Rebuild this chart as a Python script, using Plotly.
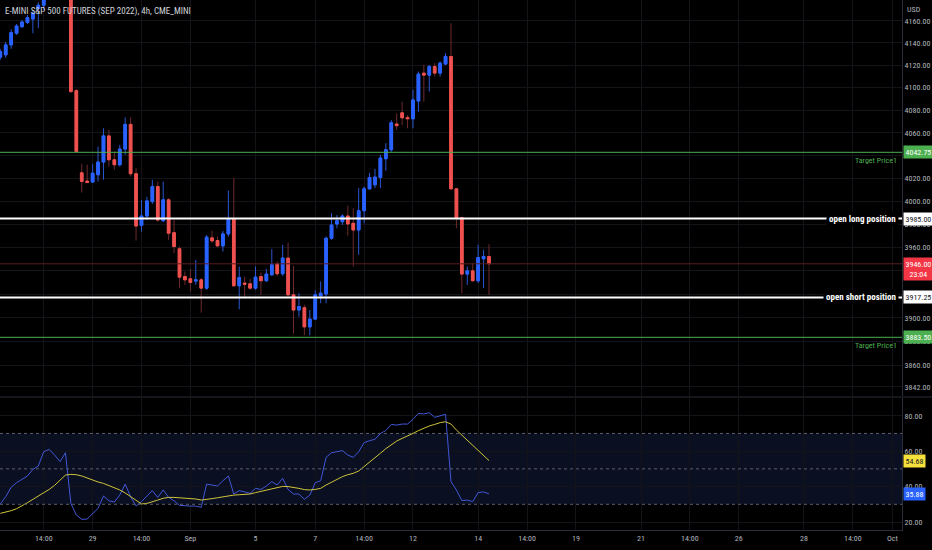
import math
import plotly.graph_objects as go

# ---------------- data ----------------
title_text = "E-MINI S&P 500 FUTURES (SEP 2022), 4h, CME_MINI"

o = [4127.2, 4129.3, 4138.2, 4148.7, 4154.6, 4158.5, 4161.5, 4171.1, 4174.0, 4182.0,
     4190.0, 4197.0, 4200.0, 4205.0, 4097.3, 4024.8, 4017.6, 4016.7, 4023.1, 4034.2,
     4057.2, 4036.2, 4031.8, 4045.6, 4067.4, 4024.0, 3979.1, 3987.2, 3999.7, 4012.8,
     3983.1, 4001.2, 3972.8, 3958.9, 3935.1, 3933.2, 3931.2, 3932.3, 3925.2, 3968.3,
     3966.0, 3961.4, 3971.7, 3984.6, 3927.2, 3929.5, 3928.9, 3925.2, 3935.1, 3931.5,
     3936.6, 3945.8, 3937.5, 3950.9, 3919.5, 3906.6, 3908.6, 3892.3, 3898.9, 3918.6,
     3920.3, 3968.0, 3980.3, 3982.2, 3987.2, 3980.9, 3975.1, 3991.8, 4010.8, 4014.3,
     4020.7, 4037.1, 4045.0, 4067.7, 4077.6, 4073.5, 4072.3, 4088.1, 4112.9, 4111.1,
     4118.8, 4112.9, 4121.0, 4127.8, 4010.8, 3985.7, 3937.2, 3940.0, 3931.5, 3950.3,
     3952.3]
h = [4134.6, 4140.9, 4152.3, 4157.0, 4160.6, 4165.1, 4169.6, 4176.7, 4186.0, 4194.0,
     4201.0, 4206.0, 4212.0, 4210.0, 4098.6, 4032.7, 4031.8, 4032.4, 4047.8, 4063.9,
     4062.5, 4043.5, 4049.3, 4073.5, 4073.5, 4028.9, 4001.2, 4003.8, 4018.7, 4017.2,
     4017.2, 4002.7, 3983.7, 3960.8, 3939.4, 3941.5, 3949.4, 3933.8, 3970.8, 3974.5,
     3969.4, 3974.3, 4009.3, 4020.2, 3943.7, 3935.1, 3933.2, 3943.7, 3938.6, 3941.7,
     3958.6, 3948.0, 3962.3, 3964.2, 3944.3, 3920.9, 3910.9, 3906.6, 3923.2, 3930.9,
     3969.4, 3989.6, 3988.1, 3988.7, 3996.2, 3993.9, 4011.4, 4012.8, 4024.8, 4028.3,
     4040.6, 4050.8, 4071.2, 4077.1, 4087.5, 4075.6, 4098.0, 4114.3, 4120.3, 4120.3,
     4121.8, 4123.3, 4130.8, 4157.6, 4011.4, 3986.6, 3943.7, 3946.6, 3962.3, 3958.0,
     3962.9]
l = [4124.8, 4126.6, 4134.6, 4147.2, 4153.4, 4157.0, 4148.7, 4153.2, 4169.6, 4180.0,
     4186.0, 4191.0, 4195.0, 4095.3, 4042.8, 4007.6, 4015.8, 4015.8, 4017.2, 4018.7,
     4030.3, 4027.5, 4030.3, 4040.6, 4021.6, 3966.0, 3973.7, 3983.7, 3997.7, 3982.2,
     3982.2, 3966.6, 3955.2, 3925.2, 3928.0, 3922.3, 3928.0, 3904.3, 3923.8, 3964.2,
     3960.3, 3956.5, 3969.4, 3926.6, 3907.2, 3916.7, 3923.8, 3923.8, 3919.5, 3930.6,
     3935.7, 3935.7, 3935.7, 3918.6, 3886.7, 3900.9, 3885.2, 3885.2, 3898.1, 3912.4,
     3912.4, 3966.6, 3976.6, 3979.4, 3970.2, 3943.7, 3953.7, 3980.9, 4010.0, 4011.4,
     4011.4, 4026.6, 4043.2, 4062.5, 4066.8, 4063.9, 4063.9, 4078.5, 4087.5, 4096.4,
     4109.9, 4109.9, 4120.3, 4010.0, 3976.6, 3920.9, 3928.0, 3930.9, 3929.5, 3925.2,
     3919.5]
c = [4132.2, 4138.2, 4149.2, 4155.2, 4158.8, 4162.7, 4166.6, 4174.0, 4182.0, 4190.0,
     4197.0, 4200.0, 4205.0, 4096.4, 4043.5, 4017.2, 4016.3, 4024.5, 4034.2, 4057.2,
     4036.2, 4031.8, 4045.6, 4067.4, 4024.0, 3978.5, 3987.2, 4000.3, 4012.8, 3983.7,
     4001.2, 3972.3, 3960.8, 3934.6, 3932.3, 3930.0, 3932.3, 3925.2, 3968.9, 3965.7,
     3961.4, 3971.7, 3984.3, 3927.2, 3934.3, 3928.6, 3925.2, 3934.6, 3931.5, 3937.2,
     3945.2, 3937.5, 3950.9, 3919.5, 3906.6, 3909.5, 3892.3, 3898.9, 3919.5, 3920.9,
     3968.0, 3979.4, 3983.1, 3987.2, 3980.3, 3975.1, 3991.8, 4010.8, 4020.7, 4021.0,
     4037.7, 4045.0, 4068.8, 4066.2, 4073.2, 4072.3, 4089.0, 4112.0, 4111.1, 4118.8,
     4112.9, 4121.8, 4127.8, 4010.8, 3985.7, 3937.2, 3940.0, 3931.5, 3951.4, 3952.3,
     3946.0]

rsi = [30.2, 34.3, 39.6, 42.2, 44.1, 46.0, 49.7, 51.6, 59.7, 61.0,
       57.8, 54.1, 59.1, 30.5, 24.0, 21.5, 21.7, 24.5, 27.7, 34.7,
       32.0, 31.3, 35.2, 41.4, 34.3, 29.0, 31.5, 34.7, 37.7, 33.9,
       38.1, 33.9, 32.0, 29.4, 29.0, 29.0, 29.0, 28.3, 41.4, 40.9,
       40.3, 43.3, 46.0, 35.8, 37.7, 37.0, 36.2, 39.0, 38.4, 40.3,
       42.8, 40.9, 44.7, 38.4, 35.8, 35.8, 32.8, 35.2, 42.2, 43.3,
       56.5, 59.1, 59.7, 60.3, 57.8, 56.5, 59.7, 64.8, 65.9, 66.7,
       70.0, 71.6, 75.1, 74.7, 75.3, 75.3, 77.9, 81.3, 81.0, 81.7,
       79.1, 79.8, 80.8, 42.8, 38.1, 32.1, 32.4, 31.5, 36.6, 37.0,
       35.88]
rsi_ma = [24.9, 25.5, 26.4, 27.5, 29.0, 30.9, 32.8, 34.7, 36.2, 38.4,
          40.7, 43.7, 46.5, 46.9, 46.7, 46.0, 44.8, 43.7, 42.6, 41.8,
          40.7, 39.6, 38.1, 36.4, 34.5, 32.4, 30.2, 30.5, 31.3, 32.4,
          33.4, 33.9, 33.9, 33.7, 33.6, 33.4, 33.0, 32.4, 32.6, 33.2,
          33.7, 34.3, 34.9, 35.2, 35.4, 35.6, 35.8, 36.6, 37.3, 38.1,
          39.0, 39.8, 40.1, 40.0, 39.6, 39.0, 38.3, 38.1, 38.4, 39.0,
          40.9, 42.6, 44.3, 45.6, 46.7, 47.5, 48.8, 51.2, 53.5, 56.1,
          58.8, 61.4, 63.8, 65.7, 67.2, 68.5, 70.0, 71.6, 73.1, 74.2,
          75.1, 76.1, 76.6, 75.3, 71.9, 69.1, 66.3, 63.5, 60.6, 57.8,
          54.68]

bar = list(range(len(c)))

x_tick_bar = [8, 17, 26, 35, 47, 58, 67, 76, 88, 97, 106, 118, 127, 136, 148, 157, 164.3]
x_tick_text = ["14:00", "29", "14:00", "Sep", "5", "7", "14:00", "12", "14", "14:00",
               "19", "21", "14:00", "26", "28", "14:00", "Oct"]

price_ticks = [3842, 3860, 3880, 3900, 3920, 3940, 3960, 3980, 4000, 4020, 4040,
               4060, 4080, 4100, 4120, 4140, 4160]
rsi_ticks = [20, 40, 60, 80]

target_up = 4042.75
target_dn = 3883.50
long_level = 3985.00
short_level = 3917.25
last_price = 3946.00
countdown = "23:04"
rsi_upper, rsi_mid, rsi_lower = 70, 50, 30

# ---------------- style ----------------
BLUE = "#2962ff"
RED = "#f0514f"
BLUE_WICK = "#2b56d0"
RED_WICK = "#6e2b2e"
GREEN = "#4caf50"
AXIS_TXT = "#b2b5be"
GRID = "#141418"
BORDER = "#2a2e39"
FONT = "Liberation Sans Narrow, Roboto Condensed, DejaVu Sans Condensed, Open Sans, sans-serif"

W, H = 932, 550
ML, MR, MT, MB = 0, 30, 0, 20
plot_h = H - MT - MB
price_dom = [(plot_h - 396) / plot_h, 1.0]
rsi_dom = [0.0, (plot_h - 398) / plot_h]

fig = go.Figure()

# wicks (full candles in wick colour)
fig.add_trace(go.Candlestick(
    x=bar, open=o, high=h, low=l, close=c,
    increasing=dict(line=dict(color=BLUE_WICK, width=1), fillcolor=BLUE_WICK),
    decreasing=dict(line=dict(color=RED_WICK, width=1), fillcolor=RED_WICK),
    whiskerwidth=0, xaxis="x", yaxis="y", hoverinfo="skip", showlegend=False))
# bodies on top
body_hi = [max(a, b) for a, b in zip(o, c)]
body_lo = [min(a, b) for a, b in zip(o, c)]
fig.add_trace(go.Candlestick(
    x=bar, open=o, high=body_hi, low=body_lo, close=c,
    increasing=dict(line=dict(color=BLUE, width=1), fillcolor=BLUE),
    decreasing=dict(line=dict(color=RED, width=1), fillcolor=RED),
    whiskerwidth=0, xaxis="x", yaxis="y", hoverinfo="skip", showlegend=False))

# horizontal levels
xr = [-5, 175]
def hline(val, color, width):
    fig.add_trace(go.Scatter(x=xr, y=[val, val], mode="lines",
                             line=dict(color=color, width=width),
                             xaxis="x", yaxis="y", hoverinfo="skip", showlegend=False))

hline(last_price, "#5a1d22", 1)
hline(target_up, GREEN, 1)
hline(target_dn, GREEN, 1)
hline(long_level, "#ffffff", 2)
hline(short_level, "#ffffff", 2)

# RSI
fig.add_trace(go.Scatter(x=bar, y=rsi, mode="lines", line=dict(color="#4257d8", width=1),
                         xaxis="x", yaxis="y2", hoverinfo="skip", showlegend=False))
fig.add_trace(go.Scatter(x=bar, y=rsi_ma, mode="lines", line=dict(color="#cfc43a", width=1),
                         xaxis="x", yaxis="y2", hoverinfo="skip", showlegend=False))

shapes = [
    dict(type="rect", xref="paper", yref="y2", x0=0, x1=1, y0=rsi_lower, y1=rsi_upper,
         fillcolor="#0a0f22", line=dict(width=0), layer="below"),
]
for lv in (rsi_upper, rsi_mid, rsi_lower):
    shapes.append(dict(type="line", xref="paper", yref="y2", x0=0, x1=1, y0=lv, y1=lv,
                       line=dict(color="#5d606b", width=1, dash="3px,3px")))
# pane separator
sep_y = (plot_h - 397) / plot_h
shapes.append(dict(type="line", xref="paper", yref="paper", x0=0, x1=(W - ML) / (W - ML - MR),
                   y0=sep_y, y1=sep_y, line=dict(color=BORDER, width=1)))

annotations = []
lg = math.log10

# title
annotations.append(dict(text=title_text, xref="paper", yref="paper", x=0, y=1,
                        xanchor="left", yanchor="top", xshift=3, yshift=-4, showarrow=False,
                        font=dict(family=FONT, size=9, color="#d1d4dc")))
annotations.append(dict(text="USD", xref="paper", yref="paper", x=1, y=1,
                        xanchor="left", yanchor="top", xshift=3, yshift=-3, showarrow=False,
                        font=dict(family=FONT, size=8, color=AXIS_TXT)))

def price_box(val, text, bg, fg, yanchor="middle", yshift=0):
    annotations.append(dict(text=text, xref="paper", yref="y", x=1, y=lg(val),
                            xanchor="left", yanchor=yanchor, xshift=1, yshift=yshift,
                            showarrow=False, bgcolor=bg, borderpad=1.5,
                            font=dict(family=FONT, size=8, color=fg)))

price_box(target_up, f"{target_up:.2f}", GREEN, "#ffffff")
price_box(long_level, f"{long_level:.2f}", "#ffffff", "#131722")
price_box(last_price, f"{last_price:.2f}<br>{countdown}", "#f23645", "#ffffff",
          yanchor="top", yshift=7)
price_box(short_level, f"{short_level:.2f}", "#ffffff", "#131722")
price_box(target_dn, f"{target_dn:.2f}", GREEN, "#ffffff")

for val in (target_up, target_dn):
    annotations.append(dict(text="Target Price1", xref="paper", yref="y", x=899 / 902, y=lg(val),
                            xanchor="right", yanchor="top", yshift=-2, showarrow=False,
                            font=dict(family=FONT, size=8, color=GREEN)))

for val, txt in ((long_level, "open long position"), (short_level, "open short position")):
    annotations.append(dict(text=f"<b>{txt}</b>", xref="paper", yref="y", x=899 / 902, y=lg(val),
                            xanchor="right", yanchor="middle", showarrow=False,
                            bgcolor="#000000", borderpad=2,
                            font=dict(family=FONT, size=9, color="#ffffff")))

def rsi_box(val, bg, fg):
    annotations.append(dict(text=f"{val:.2f}", xref="paper", yref="y2", x=1, y=val,
                            xanchor="left", yanchor="middle", xshift=1, showarrow=False,
                            bgcolor=bg, borderpad=1.5,
                            font=dict(family=FONT, size=8, color=fg)))

rsi_box(rsi_ma[-1], "#f5e03c", "#131722")
rsi_box(rsi[-1], BLUE, "#ffffff")

# price axis range (log) from pixel reading: top 4178.75, bottom 3834.3
p_top, p_bot = 4178.75, 3834.3

fig.update_layout(
    width=W, height=H,
    margin=dict(l=ML, r=MR, t=MT, b=MB, autoexpand=False),
    paper_bgcolor="#000000", plot_bgcolor="#000000",
    font=dict(family=FONT, size=8, color=AXIS_TXT),
    showlegend=False,
    xaxis=dict(range=[-0.055, 166.06], anchor="y2", domain=[0, 1],
               tickvals=x_tick_bar, ticktext=x_tick_text, ticks="",
               showgrid=True, gridcolor=GRID, gridwidth=1, zeroline=False,
               showline=True, linecolor=BORDER, linewidth=1,
               rangeslider=dict(visible=False), fixedrange=True,
               tickfont=dict(family=FONT, size=8, color=AXIS_TXT)),
    yaxis=dict(type="log", domain=price_dom, anchor="x", side="right",
               range=[lg(p_bot), lg(p_top)],
               tickvals=price_ticks, ticktext=[f"{v:.2f}" for v in price_ticks],
               ticks="", showgrid=True, gridcolor=GRID, zeroline=False,
               showline=True, linecolor=BORDER, linewidth=1,
               tickfont=dict(family=FONT, size=8, color=AXIS_TXT)),
    yaxis2=dict(domain=rsi_dom, anchor="x", side="right", range=[15.5, 90.0],
                tickvals=rsi_ticks, ticktext=[f"{v:.2f}" for v in rsi_ticks],
                ticks="", showgrid=True, gridcolor=GRID, zeroline=False,
                showline=True, linecolor=BORDER, linewidth=1,
                tickfont=dict(family=FONT, size=8, color=AXIS_TXT)),
    shapes=shapes,
    annotations=annotations,
)

fig.write_html("out.html", config={"displayModeBar": False},
               post_script="document.body.style.margin='0px';document.body.style.overflow='hidden';")
